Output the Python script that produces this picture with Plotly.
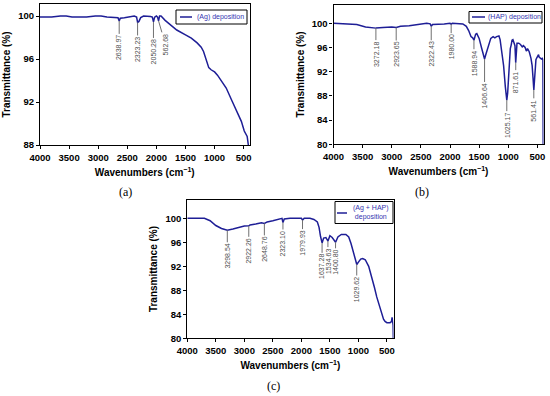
import plotly.graph_objects as go

W, H = 550, 396

# ---------------- data ----------------
# (a) Ag deposition
ag_wn = [4000, 3800, 3650, 3550, 3450, 3200, 3050, 2950, 2850, 2700, 2660, 2639, 2620, 2550,
         2450, 2380, 2340, 2323, 2300, 2270, 2220, 2150, 2100, 2070, 2050, 2030, 2000, 1980,
         1963, 1945, 1920, 1850, 1750, 1650, 1500, 1400, 1300, 1230, 1190, 1150, 1100, 1060,
         1000, 950, 880, 800, 700, 600, 540, 490, 470, 440, 420, 410]
ag_T = [99.9, 99.9, 100.0, 100.0, 99.9, 99.9, 100.0, 100.0, 99.9, 99.9, 99.85, 99.55, 99.8, 99.85,
        99.9, 100.0, 99.9, 99.4, 99.5, 99.85, 100.0, 100.0, 99.95, 99.9, 99.45, 99.9, 100.0, 99.9,
        99.55, 100.0, 100.0, 99.6, 99.15, 98.7, 98.25, 97.95, 97.5, 97.1, 96.7, 96.0, 95.2, 95.0,
        94.8, 94.5, 93.9, 93.3, 92.1, 91.0, 90.2, 89.3, 89.1, 88.8, 88.0, 87.5]
ag_peak_wn = [2638.97, 2323.23, 2050.28, 1963.0]
ag_peak_T = [99.55, 99.4, 99.45, 99.55]
ag_peak_labels = ["2638.97", "2323.23", "2050.28", "562.68"]

# (b) HAP deposition
hap_wn = [4000, 3800, 3600, 3450, 3272, 3150, 3000, 2923, 2850, 2700, 2500, 2400, 2340, 2322,
          2300, 2200, 2100, 2000, 1980, 1960, 1850, 1780, 1720, 1680, 1640, 1610, 1589, 1560,
          1540, 1500, 1460, 1430, 1407, 1380, 1340, 1300, 1260, 1230, 1200, 1160, 1140, 1110,
          1080, 1050, 1025, 1010, 995, 980, 965, 950, 935, 920, 900, 885, 872, 862, 850, 820,
          790, 760, 740, 710, 690, 670, 640, 610, 590, 575, 561, 550, 540, 525, 510, 495, 480,
          470, 455, 430, 415, 405, 400]
hap_T = [100.0, 99.95, 99.8, 99.4, 99.2, 99.3, 99.4, 99.3, 99.5, 99.6, 99.8, 100.0, 99.9, 99.5,
         99.8, 99.8, 99.9, 100.0, 99.85, 100.0, 100.0, 99.9, 99.5, 98.8, 97.8, 97.6, 97.2, 98.2,
         98.3, 97.5, 96.0, 94.6, 94.1, 95.0, 96.5, 97.5, 97.8, 97.6, 97.8, 97.9, 97.3, 95.5,
         93.0, 89.5, 87.3, 88.5, 91.5, 94.5, 95.8, 96.4, 97.2, 97.3, 96.8, 96.3, 93.5, 96.0, 96.7, 96.7,
         96.5, 96.1, 96.3, 96.0, 95.4, 95.8, 95.3, 94.2, 93.0, 91.0, 89.0, 90.5, 92.0, 94.0, 94.3, 94.7, 94.8,
         94.4, 94.3, 94.1, 94.2, 94.0, 80.0]
hap_peak_wn = [3272.18, 2923.65, 2322.43, 1980.00, 1588.94, 1406.64, 1025.17, 871.61, 561.41]
hap_peak_T = [99.2, 99.3, 99.5, 99.85, 97.2, 94.1, 87.3, 93.5, 89.0]
hap_peak_labels = ["3272.18", "2923.65", "2322.43", "1980.00", "1588.94", "1406.64",
                   "1025.17", "871.61", "561.41"]

# (c) Ag + HAP deposition
mix_wn = [4000, 3700, 3600, 3500, 3400, 3298, 3200, 3100, 3000, 2922, 2900, 2800, 2700, 2648,
          2600, 2500, 2400, 2340, 2323, 2300, 2200, 2100, 2000, 1979, 1950, 1850, 1780, 1720,
          1690, 1665, 1637, 1610, 1570, 1534, 1500, 1460, 1400, 1360, 1300, 1220, 1170, 1130,
          1100, 1070, 1050, 1029, 1000, 960, 925, 880, 820, 765, 720, 679, 630, 591, 560, 533,
          500, 446, 420, 410, 400, 392, 388]
mix_T = [100.0, 100.0, 99.6, 98.8, 98.3, 98.0, 98.2, 98.5, 98.7, 98.75, 98.9, 99.05, 99.25, 99.15,
         99.4, 99.6, 99.9, 100.0, 99.3, 99.9, 100.0, 100.0, 100.0, 99.7, 100.0, 100.0, 99.8, 99.4,
         98.5, 97.0, 95.9, 96.7, 96.8, 96.2, 97.1, 96.8, 96.0, 96.9, 97.3, 97.3, 96.9, 95.8,
         94.8, 93.5, 92.8, 92.3, 92.7, 93.2, 93.3, 93.1, 92.0, 90.3, 88.5, 86.9, 85.2, 84.2, 83.2, 82.8,
         82.6, 82.6, 82.8, 83.5, 83.0, 82.2, 80.0]
mix_peak_wn = [3298.54, 2922.26, 2648.76, 2323.10, 1979.93, 1637.28, 1534.63, 1400.80, 1029.62]
mix_peak_T = [98.0, 98.75, 99.15, 99.3, 99.7, 95.9, 96.2, 96.0, 92.3]
mix_peak_labels = ["3298.54", "2922.26", "2648.76", "2323.10", "1979.93", "1637.28",
                   "1534.63", "1400.80", "1029.62"]

x_ticks = [4000, 3500, 3000, 2500, 2000, 1500, 1000, 500]
y_ticks_a = [88, 92, 96, 100]
y_ticks_bc = [80, 84, 88, 92, 96, 100]

# ---------------- style / layout ----------------
LINE = "#1e1e96"
LEG_TXT = "#3535b0"
GRAY = "#707070"
SANS = "Liberation Sans, Arial, sans-serif"
SERIF = "Liberation Serif, Times New Roman, serif"


def px(x):
    return x / W


def py(y):
    return 1 - y / H


panels = [
    dict(name="a", wn=ag_wn, T=ag_T, xd=(40, 249.5), yd=(4, 145), xr=(4000, 400), yr=(88, 101.12),
         yt=y_ticks_a, pk_wn=ag_peak_wn, pk_T=ag_peak_T, pk_lab=ag_peak_labels,
         dx=[0, 0, 0, 7], dy=[27, 27, 30, 24],
         legend=["(Ag) deposition"], leg_box=(176, 247, 10, 24), leg_line=(180, 192, 17),
         letter="(a)", letter_pos=(125, 192)),
    dict(name="b", wn=hap_wn, T=hap_T, xd=(333.5, 543.5), yd=(4.7, 144.3), xr=(4000, 395), yr=(80, 103.07),
         yt=y_ticks_bc, pk_wn=hap_peak_wn, pk_T=hap_peak_T, pk_lab=hap_peak_labels,
         dx=[0] * 9, dy=[26, 27, 28, 23, 23, 37, 25, 20, 21],
         legend=["(HAP) deposition"], leg_box=(469, 542, 11.5, 23), leg_line=(472, 485, 17),
         letter="(b)", letter_pos=(421.5, 192)),
    dict(name="c", wn=mix_wn, T=mix_T, xd=(187.3, 393.5), yd=(199.7, 338.3), xr=(4000, 385), yr=(80, 103.1),
         yt=y_ticks_bc, pk_wn=mix_peak_wn, pk_T=mix_peak_T, pk_lab=mix_peak_labels,
         dx=[0] * 9, dy=[26, 25, 26, 21, 23, 24, 20, 20, 25],
         legend=["(Ag + HAP)", "deposition"], leg_box=(335, 393, 201.5, 223.5), leg_line=(337, 347, 213),
         letter="(c)", letter_pos=(273.5, 386)),
]

fig = go.Figure()
annotations = []
shapes = []
layout = dict(width=W, height=H, margin=dict(l=0, r=0, t=0, b=0),
              paper_bgcolor="white", plot_bgcolor="white", showlegend=False,
              font=dict(family=SANS, color="black"))

for i, p in enumerate(panels):
    k = "" if i == 0 else str(i + 1)
    xa, ya = "x" + k, "y" + k
    fig.add_trace(go.Scatter(x=p["wn"], y=p["T"], mode="lines", xaxis=xa, yaxis=ya,
                             line=dict(color=LINE, width=1.5), name=" ".join(p["legend"])))
    axis_common = dict(showgrid=False, zeroline=False, showline=True, linecolor="black", linewidth=1.2,
                       mirror=True, ticks="outside", ticklen=3, tickwidth=1.2, tickcolor="black",
                       tickfont=dict(family=SANS, size=9.5, color="black", weight="bold"),
                       automargin=False)
    layout["xaxis" + k] = dict(axis_common, domain=[px(p["xd"][0]), px(p["xd"][1])],
                               range=list(p["xr"]), anchor=ya, tickmode="array", tickvals=x_ticks,
                               title=dict(text="Wavenumbers (cm<sup>−1</sup>)", standoff=7,
                                          font=dict(family=SANS, size=10, weight="bold")))
    layout["yaxis" + k] = dict(axis_common, domain=[py(p["yd"][1]), py(p["yd"][0])],
                               range=list(p["yr"]), anchor=xa, tickmode="array", tickvals=p["yt"],
                               title=dict(text="Transmittance (%)", standoff=5,
                                          font=dict(family=SANS, size=10, weight="bold")))
    # peak labels
    for wn, T, lab, dx, dy in zip(p["pk_wn"], p["pk_T"], p["pk_lab"], p["dx"], p["dy"]):
        annotations.append(dict(x=wn, y=T, xref=xa, yref=ya, text=lab, textangle=-90,
                                showarrow=True, arrowhead=0, arrowwidth=1, arrowcolor=GRAY,
                                ax=dx, ay=dy, borderpad=1,
                                font=dict(family=SANS, size=7, color="#505050")))
    # legend box
    x0, x1, y0, y1 = p["leg_box"]
    shapes.append(dict(type="rect", xref="paper", yref="paper", x0=px(x0), x1=px(x1),
                       y0=py(y1), y1=py(y0), line=dict(color="black", width=1), fillcolor="white",
                       layer="above"))
    lx0, lx1, ly = p["leg_line"]
    shapes.append(dict(type="line", xref="paper", yref="paper", x0=px(lx0), x1=px(lx1),
                       y0=py(ly), y1=py(ly), line=dict(color=LINE, width=1.5), layer="above"))
    annotations.append(dict(x=px((lx1 + x1) / 2 + 0.5), y=py((y0 + y1) / 2), xref="paper", yref="paper",
                            text="<br>".join(p["legend"]), showarrow=False, xanchor="center",
                            yanchor="middle", align="center",
                            font=dict(family=SANS, size=7, color=LEG_TXT)))
    # panel letter
    lx, lyy = p["letter_pos"]
    annotations.append(dict(x=px(lx), y=py(lyy), xref="paper", yref="paper", text=p["letter"],
                            showarrow=False, xanchor="center", yanchor="middle",
                            font=dict(family=SERIF, size=12, color="black")))

layout["annotations"] = annotations
layout["shapes"] = shapes
fig.update_layout(**layout)
fig.write_html("out.html", config={"displayModeBar": False},
               post_script="document.body.style.margin='0';document.body.style.padding='0';")
